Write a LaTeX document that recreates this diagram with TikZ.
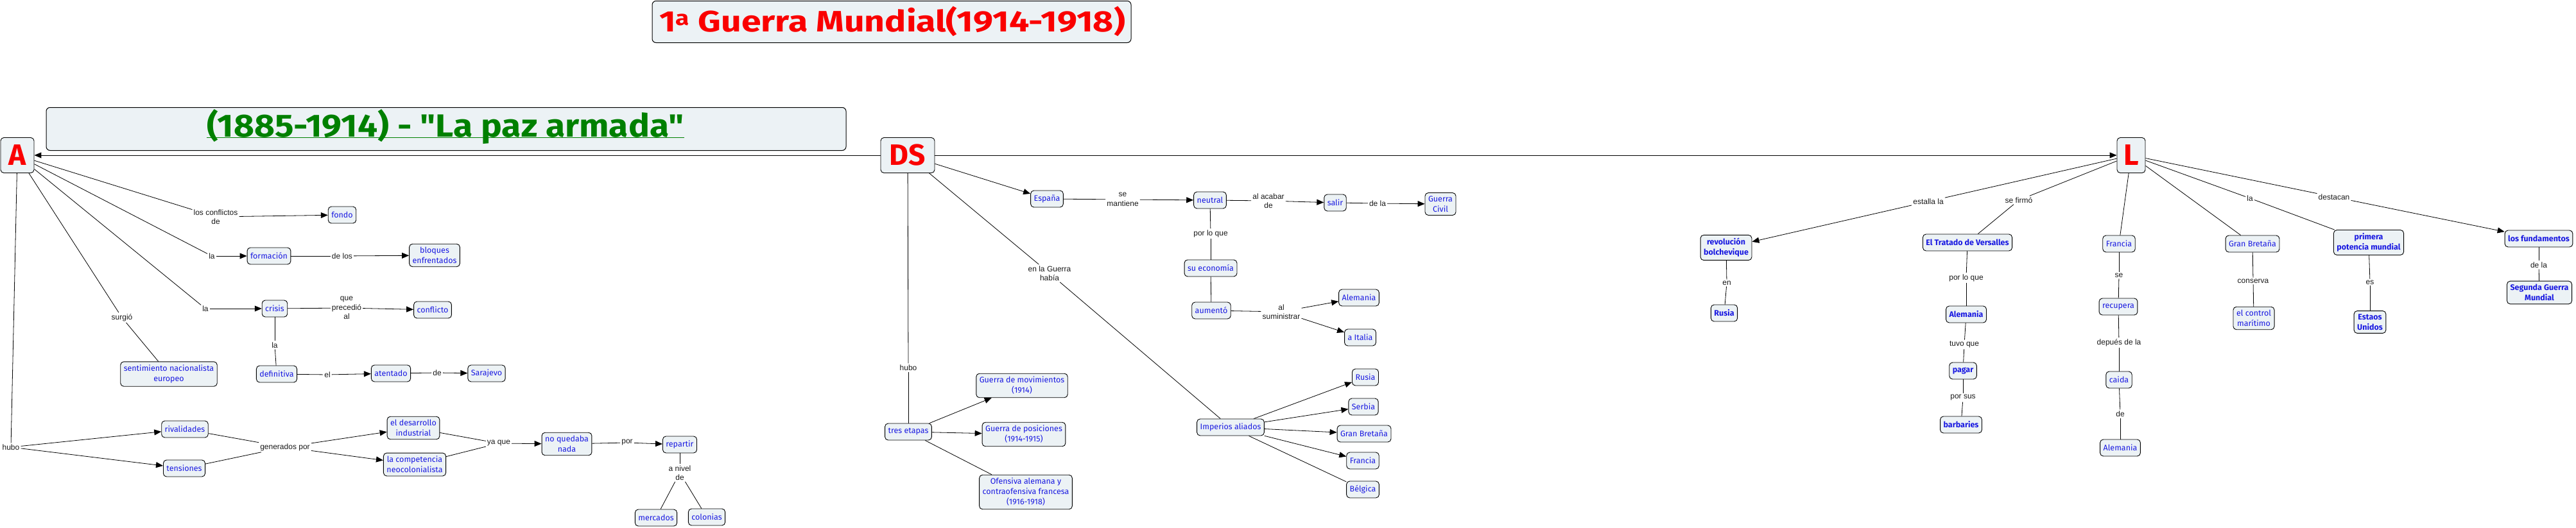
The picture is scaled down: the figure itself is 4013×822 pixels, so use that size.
\documentclass[tikz,border=0pt]{standalone}
\usepackage{fontspec}
\setmainfont{Liberation Sans}
\newfontfamily\cmapfont{Fira Sans}
\usetikzlibrary{arrows.meta, positioning, calc}
\definecolor{cfill}{RGB}{236,242,245}
\definecolor{cblue}{RGB}{25,25,225}
\definecolor{cred}{RGB}{250,0,0}
\definecolor{cgreen}{RGB}{0,128,0}
\tikzset{
    concept/.style={draw=black, line width=0.9pt, rounded corners=5pt, fill=cfill, text=cblue, font=\cmapfont\fontsize{12.5}{16}\selectfont, align=center, inner xsep=5pt, inner ysep=5pt, minimum height=26pt},
    conceptb/.style={concept, font=\cmapfont\bfseries\fontsize{12.5}{16}\selectfont},
    big/.style={concept, font=\cmapfont\bfseries\fontsize{46}{46}\selectfont, text=cred, inner sep=2pt, minimum height=55pt},
    titlebox/.style={draw=black, line width=1pt, rounded corners=6pt, fill=cfill},
    link/.style={font=\fontsize{12}{14.5}\selectfont, text=black!90, align=center, inner sep=2pt},
    con/.style={line width=0.8pt, black},
    flecha/.style={con, -{Triangle[length=11pt, width=9pt]}}
}

\begin{document}
\begin{tikzpicture}[x=1pt, y=-1pt]
    \useasboundingbox (0,0) rectangle (4013,822);
    % titulos
    \node[titlebox, minimum width=746pt, minimum height=65pt] (titulo) at (1389,34) {};
    \node[anchor=base, inner sep=0, text=cred, font=\cmapfont\bfseries\fontsize{46}{46}\selectfont] (titulotxt) at (1390,49) {\resizebox{726pt}{\height}{1\textsuperscript{a} Guerra Mundial(1914-1918)}};
    \node[titlebox, minimum width=1246pt, minimum height=67pt] (paz) at (695,201) {};
    \node[anchor=base, inner sep=0, text=cgreen, font=\cmapfont\bfseries\fontsize{50}{50}\selectfont] (paztxt) at (694,213) {\scalebox{1.1}[1]{(1885-1914) - "La paz armada"}};
    \draw[cgreen, line width=1pt] ([yshift=-1.5pt]paztxt.base west) -- ([yshift=-1.5pt]paztxt.base east);

    % A: antecedentes
    \node[big, minimum width=52pt] (A) at (27,242) {A};
    \node[link] (lconf) at (336,338) {los conflictos\\de};
    \node[concept] (fondo) at (533,335) {fondo};
    \node[link] (lla1) at (330,399) {la};
    \node[concept] (formacion) at (419,399) {formación};
    \node[link] (ldelos) at (533,399) {de los};
    \node[concept] (bloques) at (677,398) {bloques\\enfrentados};
    \node[link] (lla2) at (320,481) {la};
    \node[concept] (crisis) at (428,481) {crisis};
    \node[link] (lque) at (540,480) {que\\precedió\\al};
    \node[concept] (conflicto) at (674,483) {conflicto};
    \node[link] (lsurg) at (190,495) {surgió};
    \node[concept] (sentimiento) at (263,583) {sentimiento nacionalista\\europeo};
    \node[link] (lla3) at (428,538) {la};
    \node[concept] (definitiva) at (431,583) {definitiva};
    \node[link] (lel) at (510,584) {el};
    \node[concept] (atentado) at (609,582) {atentado};
    \node[link] (lde1) at (681,581) {de};
    \node[concept] (sarajevo) at (758,582) {Sarajevo};
    \node[link] (lhubo) at (17,697) {hubo};
    \node[concept] (rivalidades) at (288,669) {rivalidades};
    \node[concept] (tensiones) at (287,730) {tensiones};
    \node[link] (lgen) at (444,697) {generados por};
    \node[concept] (desarrollo) at (644,667) {el desarrollo\\industrial};
    \node[concept] (competencia) at (646,724) {la competencia\\neocolonialista};
    \node[link] (lyaque) at (777,691) {ya que};
    \node[concept] (nada) at (883,692) {no quedaba\\nada};
    \node[link] (lpor) at (977,690) {por};
    \node[concept] (repartir) at (1059,693) {repartir};
    \node[link] (lnivel) at (1059,737) {a nivel\\de};
    \node[concept] (mercados) at (1022,807) {mercados};
    \node[concept] (colonias) at (1101,806) {colonias};

    % DS: desarrollo
    \node[big, minimum width=84pt] (DS) at (1414,242) {DS};
    \node[concept] (espana) at (1631,310) {España};
    \node[link] (lse) at (1749,311) {se\\mantiene};
    \node[concept] (neutral) at (1885,312) {neutral};
    \node[link] (lacabar) at (1976,313) {al acabar\\de};
    \node[concept] (salir) at (2080,316) {salir};
    \node[link] (ldela) at (2146,317) {de la};
    \node[concept] (civil) at (2244,318) {Guerra\\Civil};
    \node[link] (lporque) at (1886,364) {por lo que};
    \node[concept] (economia) at (1886,418) {su economía};
    \node[concept] (aumento) at (1887,484) {aumentó};
    \node[link] (lsum) at (1996,486) {al\\suministrar};
    \node[concept] (alemania) at (2117,464) {Alemania};
    \node[concept] (italia) at (2119,526) {a Italia};
    \node[link] (lguerra) at (1635,426) {en la Guerra\\había};
    \node[concept] (imperios) at (1917,666) {Imperios aliados};
    \node[concept] (rusia) at (2127,588) {Rusia};
    \node[concept] (serbia) at (2124,634) {Serbia};
    \node[concept] (gb) at (2125,676) {Gran Bretaña};
    \node[concept] (francia) at (2123,718) {Francia};
    \node[concept] (belgica) at (2123,763) {Bélgica};
    \node[link] (lhubo2) at (1415,573) {hubo};
    \node[concept] (etapas) at (1415,673) {tres etapas};
    \node[concept] (gmov) at (1592,601) {Guerra de movimientos\\(1914)};
    \node[concept] (gpos) at (1595,677) {Guerra de posiciones\\(1914-1915)};
    \node[concept] (ofen) at (1598,767) {Ofensiva alemana y\\contraofensiva francesa\\(1916-1918)};

    % L: consecuencias
    \node[big, minimum width=44pt] (L) at (3320,242) {L};
    \node[link] (lestalla) at (3004,314) {estalla la};
    \node[conceptb] (revol) at (2689,386) {revolución\\bolchevique};
    \node[link] (len) at (2690,441) {en};
    \node[conceptb] (rusia2) at (2686,488) {Rusia};
    \node[link] (lfirmo) at (3145,312) {se firmó};
    \node[conceptb] (versalles) at (3065,378) {El Tratado de Versalles};
    \node[link] (lporque2) at (3063,433) {por lo que};
    \node[conceptb] (alemania2) at (3063,490) {Alemania};
    \node[link] (ltuvo) at (3060,537) {tuvo que};
    \node[conceptb] (pagar) at (3058,578) {pagar};
    \node[link] (lporsus) at (3058,620) {por sus};
    \node[conceptb] (barbaries) at (3055,662) {barbaries};
    \node[concept] (francia2) at (3301,380) {Francia};
    \node[link] (lse2) at (3301,429) {se};
    \node[concept] (recupera) at (3300,478) {recupera};
    \node[link] (ldepues) at (3301,534) {depués de la};
    \node[concept] (caida) at (3301,592) {caida};
    \node[link] (lde2) at (3303,645) {de};
    \node[concept] (alemania3) at (3303,698) {Alemania};
    \node[concept] (gb2) at (3509,380) {Gran Bretaña};
    \node[link] (lconserva) at (3510,438) {conserva};
    \node[concept] (control) at (3511,496) {el control\\marítimo};
    \node[link] (lla4) at (3505,309) {la};
    \node[conceptb] (primera) at (3690,378) {primera\\potencia mundial};
    \node[link] (les) at (3692,440) {es};
    \node[conceptb] (estaos) at (3692,502) {Estaos\\Unidos};
    \node[link] (ldestacan) at (3636,307) {destacan};
    \node[conceptb] (fundamentos) at (3955,372) {los fundamentos};
    \node[link] (ldela2) at (3955,413) {de la};
    \node[conceptb] (segunda) at (3956,456) {Segunda Guerra\\Mundial};

    % conectores
    \draw[flecha, line width=1pt] (DS) -- (A);
    \draw[flecha, line width=1pt] (DS) -- (L);
    \foreach \a/\b in {A/lconf, A/lla1, formacion/ldelos, A/lla2, crisis/lque, A/lsurg, lsurg/sentimiento, crisis/lla3, lla3/definitiva, definitiva/lel, atentado/lde1, A/lhubo, rivalidades/lgen, tensiones/lgen, desarrollo/lyaque, competencia/lyaque, nada/lpor, repartir/lnivel, lnivel/mercados, lnivel/colonias,
        espana/lse, neutral/lacabar, salir/ldela, neutral/lporque, lporque/economia, economia/aumento, aumento/lsum, DS/lguerra, lguerra/imperios, imperios/belgica, DS/lhubo2, lhubo2/etapas, etapas/ofen,
        L/lestalla, revol/len, len/rusia2, L/lfirmo, lfirmo/versalles, versalles/lporque2, lporque2/alemania2, alemania2/ltuvo, ltuvo/pagar, pagar/lporsus, lporsus/barbaries, L/francia2, francia2/lse2, lse2/recupera, recupera/ldepues, ldepues/caida, caida/lde2, lde2/alemania3, L/gb2, gb2/lconserva, lconserva/control, L/lla4, lla4/primera, primera/les, les/estaos, L/ldestacan, fundamentos/ldela2, ldela2/segunda}
        \draw[con] (\a) -- (\b);
    \foreach \a/\b in {lconf/fondo, lla1/formacion, ldelos/bloques, lla2/crisis, lque/conflicto, lel/atentado, lde1/sarajevo, lhubo/rivalidades, lhubo/tensiones, lgen/desarrollo, lgen/competencia, lyaque/nada, lpor/repartir,
        DS/espana, lse/neutral, lacabar/salir, ldela/civil, lsum/alemania, lsum/italia, imperios/rusia, imperios/serbia, imperios/gb, imperios/francia, etapas/gmov, etapas/gpos,
        lestalla/revol, ldestacan/fundamentos}
        \draw[flecha] (\a) -- (\b);
\end{tikzpicture}
\end{document}
